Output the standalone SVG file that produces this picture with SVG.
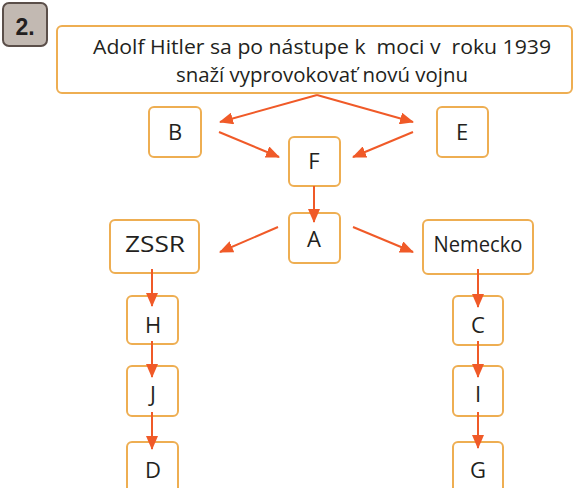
<svg xmlns="http://www.w3.org/2000/svg" width="573" height="488" viewBox="0 0 573 488">
<style>
.box{fill:#fff;stroke:#eeae52;stroke-width:2}
.t{font-family:"Open Sans","Liberation Sans",sans-serif;font-size:22px;fill:#231f20;text-anchor:middle}
.tt{font-size:20px}
.c{stroke:#f05a28;stroke-width:2;fill:none;marker-end:url(#ah)}
</style>
<defs>
<marker id="ah" markerUnits="userSpaceOnUse" markerWidth="14" markerHeight="12" refX="13" refY="6" orient="auto" viewBox="0 0 14 12">
<path d="M0,0 L14,6 L0,12 Z" fill="#f05a28"/>
</marker>
</defs>
<rect width="573" height="488" fill="#fff"/>
<g id="badge">
<rect x="3" y="3" width="44" height="43" rx="6" fill="#c2b9b2" stroke="#5b4f4a" stroke-width="2"/>
<text x="25" y="35" font-family="Liberation Sans,sans-serif" font-weight="bold" font-size="23" fill="#231f20" text-anchor="middle">2.</text>
</g>
<g id="title">
<rect class="box" x="57" y="26" width="515" height="67" rx="5"/>
<text class="t tt" x="322" y="54" xml:space="preserve" textLength="458" lengthAdjust="spacingAndGlyphs">Adolf Hitler sa po nástupe k  moci v  roku 1939</text>
<text class="t tt" x="322" y="82" textLength="292" lengthAdjust="spacingAndGlyphs">snaží vyprovokovať novú vojnu</text>
</g>
<g id="B"><rect class="box" x="149" y="107" width="52" height="50" rx="5"/><text class="t" x="175" y="140">B</text></g>
<g id="E"><rect class="box" x="437" y="107" width="51" height="50" rx="5"/><text class="t" x="462" y="140">E</text></g>
<g id="F"><rect class="box" x="289" y="137" width="51" height="49" rx="5"/><text class="t" x="314" y="169">F</text></g>
<g id="A"><rect class="box" x="289" y="213" width="51" height="50" rx="5"/><text class="t" x="314" y="247">A</text></g>
<g id="ZSSR"><rect class="box" x="110" y="220" width="89" height="53" rx="5"/><text class="t" x="155" y="252" textLength="60" lengthAdjust="spacingAndGlyphs">ZSSR</text></g>
<g id="Nemecko"><rect class="box" x="423" y="220" width="110" height="54" rx="5"/><text class="t" x="478" y="252" textLength="89" lengthAdjust="spacingAndGlyphs">Nemecko</text></g>
<g id="H"><rect class="box" x="127" y="296" width="51" height="48" rx="5"/><text class="t" x="153" y="333">H</text></g>
<g id="J"><rect class="box" x="127" y="366" width="51" height="50" rx="5"/><text class="t" x="153" y="402">J</text></g>
<g id="D"><rect class="box" x="127" y="442" width="51" height="56" rx="5"/><text class="t" x="153" y="478">D</text></g>
<g id="C"><rect class="box" x="453" y="296" width="50" height="49" rx="5"/><text class="t" x="478" y="333">C</text></g>
<g id="I"><rect class="box" x="453" y="366" width="50" height="50" rx="5"/><text class="t" x="478" y="402">I</text></g>
<g id="G"><rect class="box" x="453" y="442" width="50" height="56" rx="5"/><text class="t" x="478" y="478">G</text></g>
<g id="connectors">
<line class="c" x1="317" y1="95" x2="220" y2="122"/>
<line class="c" x1="317" y1="95" x2="413" y2="122"/>
<line class="c" x1="219" y1="132" x2="279" y2="157"/>
<line class="c" x1="413" y1="132" x2="353" y2="157"/>
<line class="c" x1="314" y1="186" x2="314" y2="222"/>
<line class="c" x1="278" y1="227" x2="220" y2="252"/>
<line class="c" x1="353" y1="227" x2="413" y2="252"/>
<line class="c" x1="152" y1="269" x2="152" y2="306"/>
<line class="c" x1="152" y1="341" x2="152" y2="377"/>
<line class="c" x1="152" y1="412" x2="152" y2="449"/>
<line class="c" x1="478" y1="269" x2="478" y2="307"/>
<line class="c" x1="478" y1="341" x2="478" y2="377"/>
<line class="c" x1="478" y1="412" x2="478" y2="448"/>
</g>
</svg>
